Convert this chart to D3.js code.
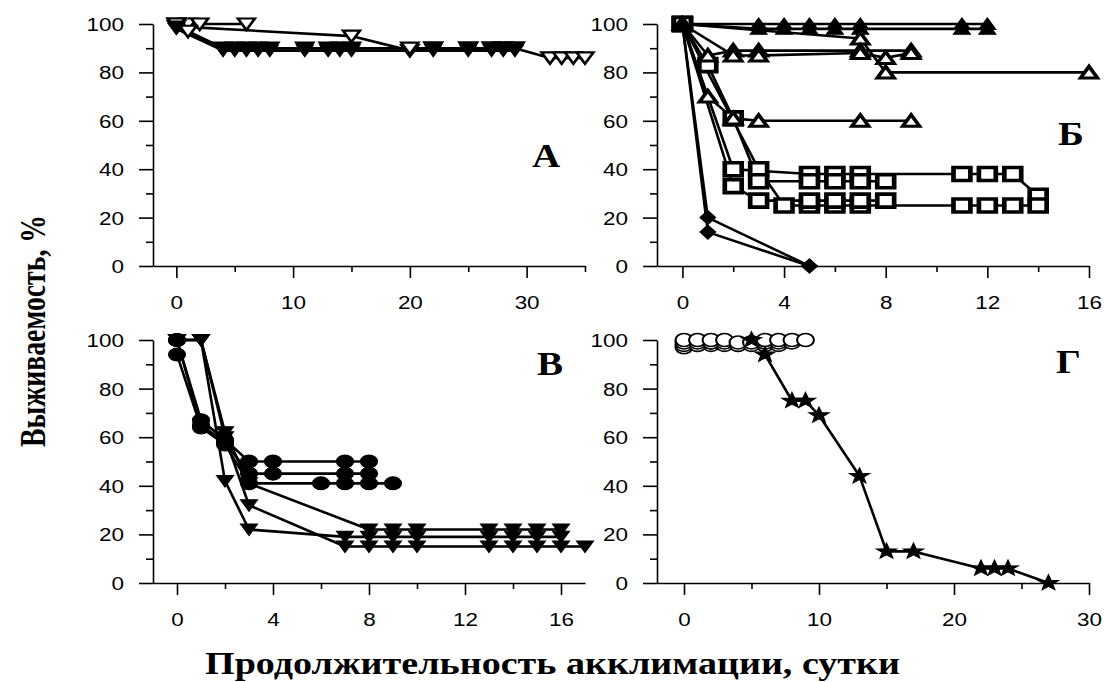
<!DOCTYPE html>
<html><head><meta charset="utf-8">
<script src="https://cdn.jsdelivr.net/npm/d3@7"></script>
<style>body{margin:0;background:#fff}svg{display:block}</style>
</head><body>
<svg id="chart" width="1104" height="682"></svg>
<script>
// ---------- DATA ----------
// Panel А (x: days, y: survival %)
const aOpen1 = [[0,100],[1,100],[2,100],[6,100]];
const aOpen2 = [[0,99],[15,95],[20,89],[22,90],[25,90],[27,90],[28,90],[29,90],[32,86],[33,86],[34,86],[35,86]];
const aOpen3 = [[0,100],[1,97],[4,90],[5,90],[6,90],[7,90],[8,90],[11,90],[13,90],[14,90],[15,90],[20,90],[22,90],[25,90],[27,90],[28,90],[29,90]];
const aFill1 = [[0,99],[4,90],[5,90],[6,90],[7,90],[8,90],[11,90],[13,90],[14,90],[15,90],[22,90],[25,90],[27,90],[28,90],[29,90]];
const aFill2 = [[0,98],[4,89],[5,89],[6,89],[7,89],[8,89],[11,89],[13,89],[14,89],[15,89],[22,89],[25,89],[27,89],[28,89],[29,89]];
const aXTicks = [0,10,20,30];
const aXMinor = [5,15,25,35];

// Panel Б
const bTriF1 = [[0,100],[3,100],[4,100],[5,100],[6,100],[7,100],[11,100],[12,100]];
const bTriF2 = [[0,100],[3,98],[4,98],[5,98],[6,98],[7,98],[11,98],[12,98]];
const bTriO1 = [[0,100],[7,94],[8,80],[16,80]];
const bTriO2 = [[0,100],[1,87],[2,89],[3,89],[7,89],[9,89]];
const bTriO3 = [[0,100],[2,87],[3,87],[7,88],[8,86],[9,88]];
const bTriO4 = [[0,100],[1,70],[2,61],[3,60],[7,60],[9,60]];
const bSq1 = [[0,100],[2,40],[5,38],[6,38],[7,38],[11,38],[12,38],[13,38],[14,29]];
const bSq2 = [[0,100],[3,40],[4,25],[5,25],[6,25],[7,25],[11,25],[12,25],[13,25],[14,25]];
const bSq3 = [[0,100],[1,83],[2,61],[3,35],[5,35],[6,35],[7,35],[8,35]];
const bSq4 = [[0,100],[2,33],[3,27],[5,27],[6,27],[7,27],[8,27]];
const bDia1 = [[0,100],[1,20],[5,0]];
const bDia2 = [[0,100],[1,14],[5,0]];
const bXTicks = [0,4,8,12,16];
const bXMinor = [2,6,10,14];

// Panel В
const cCir1 = [[0,100],[1,67],[2,59],[3,50],[4,50],[7,50],[8,50]];
const cCir2 = [[0,100],[1,65],[2,58],[3,45],[4,45],[7,45],[8,45]];
const cCir3 = [[0,94],[1,64],[2,57],[3,41],[6,41],[7,41],[8,41],[9,41]];
const cTri1 = [[0,100],[1,100],[2,62],[3,41],[8,22],[9,22],[10,22],[13,22],[14,22],[15,22],[16,22]];
const cTri2 = [[0,100],[1,100],[2,60],[3,32],[7,15],[8,15],[9,15],[10,15],[13,15],[14,15],[15,15],[16,15],[17,15]];
const cTri3 = [[0,100],[1,100],[2,42],[3,22],[7,19],[8,19],[9,19],[10,19],[13,19],[14,19],[15,19],[16,19]];
const cXTicks = [0,4,8,12,16];
const cXMinor = [2,6,10,14];

// Panel Г
const dCir1 = [[0,100],[1,100],[2,100],[3,100],[4,99],[5,99],[6,100],[7,100],[8,100],[9,100]];
const dCir2 = [[0,99],[1,99],[2,99],[3,99],[4,98],[5,98],[6,99],[7,99],[8,99]];
const dCir3 = [[0,98],[1,98],[2,99],[3,98],[5,99],[6,98],[7,98]];
const dCir4 = [[0,97],[1,98],[2,98],[4,98]];
const dStar = [[5,100],[6,94],[8,75],[9,75],[10,69],[13,44],[15,13],[17,13],[22,6],[23,6],[24,6],[27,0]];
const dXTicks = [0,10,20,30];
const dXMinor = [5,15,25];

const yMajor = [0,20,40,60,80,100];
const yMinor = [10,30,50,70,90];
const panelLetters = ["А","Б","В","Г"];
const yTitle = "Выживаемость, %";
const xTitle = "Продолжительность акклимации, сутки";

// ---------- DRAW ----------
const svg = d3.select("#chart");
const SX = 1.3; // horizontal stretch of the original picture

function markerPath(t){
  switch(t){
    case "triDown": return "M-6.5,-5.5L6.5,-5.5L0,6Z";
    case "triUp":   return "M-6.5,5.5L6.5,5.5L0,-6Z";
    case "square":  return "M-6.5,-6.5H6.5V6.5H-6.5Z";
    case "diamond": return "M0,-7L6,0L0,7L-6,0Z";
    case "circle":  return "M-6.5,0A6.5,6.5 0 1,0 6.5,0A6.5,6.5 0 1,0 -6.5,0Z";
    case "star": {
      let p=[];
      for(let i=0;i<10;i++){const r=i%2?3.4:8.2;const a=-Math.PI/2+i*Math.PI/5;p.push([r*Math.cos(a),r*Math.sin(a)]);}
      return "M"+p.map(d=>d[0].toFixed(2)+","+d[1].toFixed(2)).join("L")+"Z";
    }
  }
}

const panels = [
  {x0:153,x1:585,yT:24,yB:266,xDom:[-2,35],xMaj:aXTicks,xMin:aXMinor,letter:panelLetters[0],lx:532,ly:167,
   series:[
     {d:aOpen1,m:"triDown",open:true},{d:aOpen2,m:"triDown",open:true},{d:aOpen3,m:"triDown",open:true},
     {d:aFill1,m:"triDown",open:false},{d:aFill2,m:"triDown",open:false}]},
  {x0:657,x1:1089,yT:24,yB:266,xDom:[-1,16],xMaj:bXTicks,xMin:bXMinor,letter:panelLetters[1],lx:1058,ly:145,
   series:[
     {d:bDia1,m:"diamond",open:false},{d:bDia2,m:"diamond",open:false},
     {d:bSq1,m:"square",open:true,sw:3.6},{d:bSq2,m:"square",open:true,sw:3.6},{d:bSq3,m:"square",open:true,sw:3.6},{d:bSq4,m:"square",open:true,sw:3.6},
     {d:bTriO1,m:"triUp",open:true,sw:3},{d:bTriO2,m:"triUp",open:true,sw:3},{d:bTriO3,m:"triUp",open:true,sw:3},{d:bTriO4,m:"triUp",open:true,sw:3},
     {d:bTriF1,m:"triUp",open:false},{d:bTriF2,m:"triUp",open:false}]},
  {x0:153,x1:585,yT:340,yB:583,xDom:[-1,17],xMaj:cXTicks,xMin:cXMinor,letter:panelLetters[2],lx:537,ly:375,
   series:[
     {d:cTri1,m:"triDown",open:false},{d:cTri2,m:"triDown",open:false},{d:cTri3,m:"triDown",open:false},
     {d:cCir1,m:"circle",open:false},{d:cCir2,m:"circle",open:false},{d:cCir3,m:"circle",open:false}]},
  {x0:657,x1:1089,yT:340,yB:583,xDom:[-2,30],xMaj:dXTicks,xMin:dXMinor,letter:panelLetters[3],lx:1056,ly:373,
   series:[
     {d:dCir4,m:"circle",open:true,sw:1.6},{d:dCir3,m:"circle",open:true,sw:1.6},{d:dCir2,m:"circle",open:true,sw:1.6},{d:dCir1,m:"circle",open:true,sw:1.6},
     {d:dStar,m:"star",open:false}]}
];

panels.forEach(p=>{
  const x = d3.scaleLinear().domain(p.xDom).range([p.x0,p.x1]);
  const y = d3.scaleLinear().domain([0,100]).range([p.yB,p.yT]);
  const g = svg.append("g");

  // axes
  const ax = g.append("g").attr("transform",`translate(0,${p.yB})`);
  ax.call(d3.axisBottom(x).tickValues(p.xMaj).tickSize(12).tickSizeOuter(0).tickFormat(d3.format("d")));
  ax.append("g").call(d3.axisBottom(x).tickValues(p.xMin).tickSize(6).tickSizeOuter(0).tickFormat(""))
    .select(".domain").remove();
  ax.selectAll("text").attr("y",37).attr("dy","0.36em").attr("x",0)
    .attr("transform",`scale(${SX*0.96},1)`);

  const ay = g.append("g").attr("transform",`translate(${p.x0},0)`);
  ay.call(d3.axisLeft(y).tickValues(yMajor).tickSize(14).tickSizeOuter(0).tickFormat(d3.format("d")));
  ay.append("g").call(d3.axisLeft(y).tickValues(yMinor).tickSize(7).tickSizeOuter(0).tickFormat(""))
    .select(".domain").remove();
  ay.selectAll("text").attr("x",-29/(SX*0.96)).attr("dy","0.36em")
    .attr("transform",`scale(${SX*0.96},1)`);

  g.selectAll(".domain, .tick line").attr("stroke","#000").attr("stroke-width",1.6);
  g.selectAll(".tick text").attr("font-family","'Liberation Sans', Arial, sans-serif")
    .attr("font-size",18).attr("fill","#000");

  // lines
  const line = d3.line().x(d=>x(d[0])).y(d=>y(d[1]));
  p.series.forEach(s=>{
    g.append("path").attr("d",line(s.d)).attr("fill","none")
      .attr("stroke","#000").attr("stroke-width",2.6).attr("stroke-linejoin","round");
  });
  // markers
  p.series.forEach(s=>{
    g.selectAll(null).data(s.d).enter().append("path")
      .attr("d",markerPath(s.m))
      .attr("transform",d=>`translate(${x(d[0])},${y(d[1])}) scale(${SX},1)`)
      .attr("fill",s.open?"#fff":"#000")
      .attr("stroke","#000")
      .attr("stroke-width",s.sw|| (s.open?2.2:1));
  });

  // panel letter
  g.append("text").attr("transform",`translate(${p.lx},${p.ly}) scale(1.15,1)`)
    .attr("font-family","'Liberation Serif','Times New Roman',serif").attr("font-weight","bold")
    .attr("font-size",34).attr("fill","#000").text(p.letter);
});

// axis titles
svg.append("text").attr("x",205).attr("y",674)
  .attr("font-family","'Liberation Serif','Times New Roman',serif").attr("font-weight","bold")
  .attr("font-size",31).attr("textLength",695).attr("lengthAdjust","spacingAndGlyphs")
  .attr("fill","#000").text(xTitle);

svg.append("text").attr("transform","translate(45,331) rotate(-90) scale(1,1.3)")
  .attr("text-anchor","middle")
  .attr("font-family","'Liberation Serif','Times New Roman',serif").attr("font-weight","bold")
  .attr("font-size",27).attr("textLength",232).attr("lengthAdjust","spacingAndGlyphs")
  .attr("fill","#000").text(yTitle);
</script>
</body></html>
